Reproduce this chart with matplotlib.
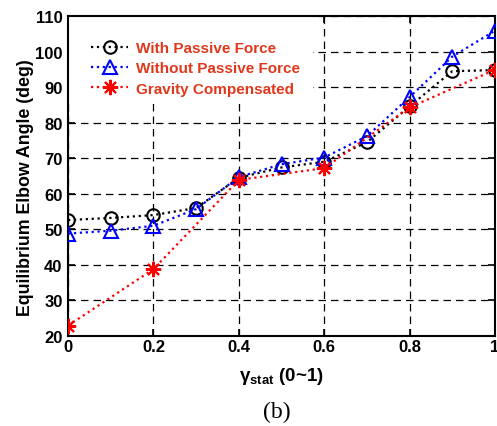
import matplotlib
matplotlib.use("Agg")
import matplotlib.pyplot as plt
from matplotlib.patches import Rectangle

plt.rcParams['font.family'] = ['Liberation Sans', 'DejaVu Sans']
plt.rcParams['mathtext.fontset'] = 'custom'
plt.rcParams['mathtext.bf'] = 'Liberation Sans:bold'
plt.rcParams['mathtext.rm'] = 'Liberation Sans:bold'

# Données
gamma = [0, 0.1, 0.2, 0.3, 0.4, 0.5, 0.6, 0.7, 0.8, 0.9, 1.0]
avec_passive = [52.6, 53.2, 54.0, 56.0, 64.5, 67.4, 69.0, 74.5, 84.6, 94.5, 94.8]
sans_passive = [48.8, 49.6, 51.0, 55.7, 64.7, 68.3, 70.2, 76.2, 87.2, 98.6, 105.9]
gamma_grav = [0, 0.2, 0.4, 0.6, 0.8, 1.0]
gravite = [22.9, 38.8, 63.9, 67.2, 84.3, 94.9]

x_ticks = [0, 0.2, 0.4, 0.6, 0.8, 1.0]
x_labels = ["0", "0.2", "0.4", "0.6", "0.8", "1"]
y_ticks = [20, 30, 40, 50, 60, 70, 80, 90, 100, 110]

fig = plt.figure(figsize=(4.97, 4.27), dpi=100)
ax = fig.add_axes([0.137, 0.211, 0.859, 0.749])

ax.plot(gamma, avec_passive, linestyle=':', color='black', linewidth=1.6,
        marker='o', markersize=9, markerfacecolor='none', markeredgewidth=1.5,
        label='With Passive Force', zorder=3)
ax.plot(gamma, sans_passive, linestyle=':', color='blue', linewidth=1.6,
        marker='^', markersize=10, markerfacecolor='none', markeredgewidth=1.5,
        label='Without Passive Force', zorder=3)
ax.plot(gamma_grav, gravite, linestyle=':', color='red', linewidth=1.6,
        marker=(8, 2, 0), markersize=11, markeredgewidth=1.5,
        label='Gravity Compensated', zorder=3)

ax.set_xlim(0, 1)
ax.set_ylim(20, 110)
ax.set_xticks(x_ticks)
ax.set_xticklabels(x_labels)
ax.set_yticks(y_ticks)
ax.tick_params(direction='in', top=True, right=True, length=5, width=1.2,
               labelsize=12)
ax.tick_params(axis='x', pad=2)
ax.tick_params(axis='y', pad=4)
for lab in ax.get_xticklabels() + ax.get_yticklabels():
    lab.set_fontweight('bold')
for sp in ax.spines.values():
    sp.set_linewidth(1.5)

ax.grid(True, linestyle=(0, (6, 4)), color='black', linewidth=0.9)

# Fond blanc de la légende (style MATLAB), masque la grille
ax.add_patch(Rectangle((0.0, 0.735), 0.574, 0.265, transform=ax.transAxes,
                       facecolor='white', edgecolor='none', zorder=1.8))

ax.set_ylabel('Equilibrium Elbow Angle (deg)', fontsize=12.8, fontweight='bold')
ax.yaxis.set_label_coords(-0.08, 0.466)
ax.set_xlabel(r'$\mathbf{\gamma_{stat}}$ (0~1)', fontsize=13.5, fontweight='bold', labelpad=8)

leg = ax.legend(loc='upper left', frameon=False, fontsize=11, handlelength=2.4,
                handletextpad=0.5, labelspacing=0.4, borderaxespad=0.0,
                bbox_to_anchor=(0.04, 0.94))
for t in leg.get_texts():
    t.set_color('#E0381C')
    t.set_fontweight('bold')

fig.text(0.557, 0.035, '(b)', fontsize=17, family='Liberation Serif', ha='center', va='center')

fig.savefig('out.png', dpi=100)
